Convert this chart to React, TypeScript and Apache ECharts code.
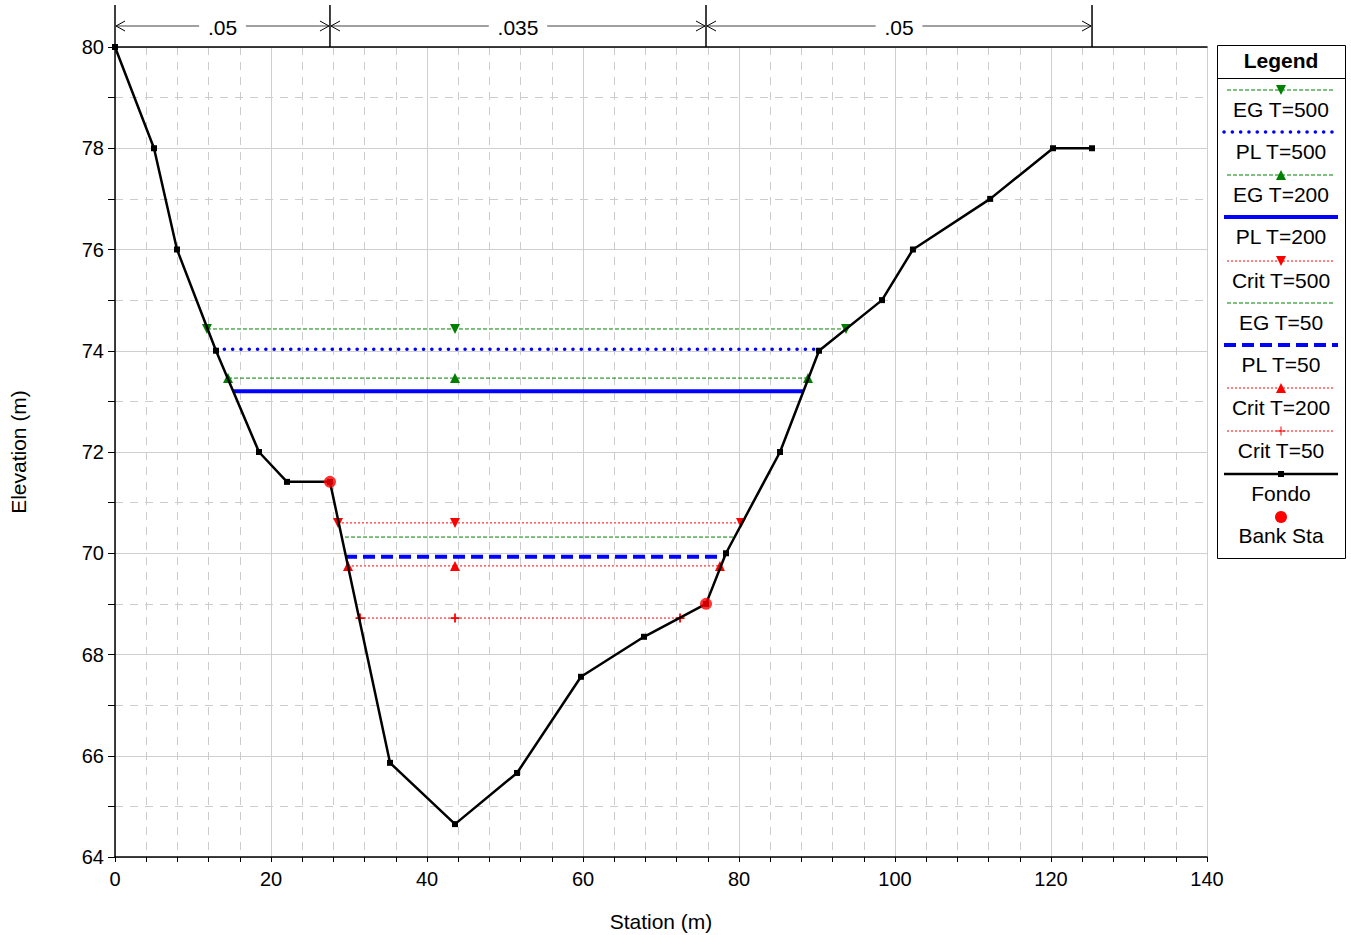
import React, { useEffect, useRef } from "react";
import * as echarts from "echarts";

// Ground profile ("Fondo")
const stations = [0, 5, 7.95, 12.95, 18.46, 22.05, 27.56, 35.26, 43.59, 51.54, 59.74, 67.82, 75.77, 78.33, 85.26, 90.26, 98.33, 102.3, 112.2, 120.26, 125.26];
const elevations = [80, 78, 76, 74, 72, 71.41, 71.41, 65.86, 64.65, 65.66, 67.56, 68.35, 69.0, 70.0, 72, 74, 75, 76, 77, 78, 78];

// Bank stations
const bankStations = [27.56, 75.77];
const bankElevations = [71.41, 69.0];

// Manning's n values between boundaries
const manningN = [".05", ".035", ".05"];

// Water surface / energy lines
const wsNames = ["EG T=500", "PL T=500", "EG T=200", "PL T=200", "Crit T=500", "EG T=50", "PL T=50", "Crit T=200", "Crit T=50"];
const wsLevels = [74.43, 74.03, 73.46, 73.2, 70.6, 70.32, 69.93, 69.75, 68.72];
const wsLeft = [11.79, 12.95, 14.49, 15.13, 28.59, 29.49, 29.49, 29.87, 31.41];
const wsRight = [93.72, 90.26, 88.85, 88.33, 80.26, 79.23, 78.08, 77.56, 72.44];
const wsMarkerStation = 43.59;

// axis ticks
const xTicks = [0, 20, 40, 60, 80, 100, 120, 140];
const yTicks = [64, 66, 68, 70, 72, 74, 76, 78, 80];

const FONT = "'Liberation Sans', Arial, sans-serif";
const GREEN = "#008000";
const BLUE = "#0000ff";
const RED = "#ff0000";
const PLUS = "path://M4,0H6V4H10V6H6V10H4V6H0V4H4Z";

type WsStyle = {
  color: string;
  width: number;
  dash: any;
  cap?: string;
  symbol?: string;
  rotate?: number;
  size?: number;
};

const wsStyles: WsStyle[] = [
  { color: GREEN, width: 1, dash: [4, 2], symbol: "triangle", rotate: 180, size: 10 },
  { color: BLUE, width: 3.5, dash: [0.1, 8.2], cap: "round" },
  { color: GREEN, width: 1, dash: [4, 2], symbol: "triangle", size: 10 },
  { color: BLUE, width: 4, dash: "solid" },
  { color: RED, width: 1, dash: [2, 2], symbol: "triangle", rotate: 180, size: 10 },
  { color: GREEN, width: 1, dash: [4, 2] },
  { color: BLUE, width: 4, dash: [12, 6] },
  { color: RED, width: 1, dash: [2, 2], symbol: "triangle", size: 10 },
  { color: RED, width: 1, dash: [2, 2], symbol: PLUS, size: 9 },
];

export default function App() {
  const ref = useRef<HTMLDivElement>(null);

  useEffect(() => {
    if (!ref.current) return;
    const chart = echarts.init(ref.current, null, { renderer: "svg" });

    const wsSeries = wsNames.map((name, i) => {
      const st = wsStyles[i];
      const data = st.symbol
        ? [[wsLeft[i], wsLevels[i]], [wsMarkerStation, wsLevels[i]], [wsRight[i], wsLevels[i]]]
        : [[wsLeft[i], wsLevels[i]], [wsRight[i], wsLevels[i]]];
      return {
        name,
        type: "line",
        data,
        showSymbol: !!st.symbol,
        symbol: st.symbol || "none",
        symbolSize: st.size || 0,
        symbolRotate: st.rotate || 0,
        itemStyle: { color: st.color },
        lineStyle: { color: st.color, width: st.width, type: st.dash, cap: st.cap || "butt" },
        z: 3,
        silent: true,
      };
    });

    const option: any = {
      animation: false,
      textStyle: { fontFamily: FONT },
      grid: { left: 115, top: 47, right: 144, bottom: 78, containLabel: false, outerBoundsMode: "none" },
      xAxis: [
        {
          type: "value",
          min: xTicks[0],
          max: xTicks[xTicks.length - 1],
          interval: 20,
          name: "Station (m)",
          nameLocation: "middle",
          nameGap: 54,
          nameTextStyle: { fontSize: 21, color: "#000", fontFamily: FONT },
          axisLine: { show: true, onZero: false, lineStyle: { color: "#000", width: 1.5 } },
          axisTick: { show: true, length: 5, lineStyle: { color: "#000" } },
          minorTick: { show: true, splitNumber: 5, length: 5, lineStyle: { color: "#000" } },
          axisLabel: { fontSize: 20, color: "#000", margin: 12, fontFamily: FONT },
          splitLine: { show: true, lineStyle: { color: "#cfcfcf", width: 1 } },
          minorSplitLine: { show: true, lineStyle: { color: "#cccccc", width: 1, type: [8, 7] } },
        },
        {
          type: "value",
          position: "top",
          min: xTicks[0],
          max: xTicks[xTicks.length - 1],
          interval: 20,
          axisLine: { show: true, onZero: false, lineStyle: { color: "#000", width: 1.5 } },
          axisTick: { show: false },
          axisLabel: { show: false },
          splitLine: { show: false },
        },
      ],
      yAxis: {
        type: "value",
        min: yTicks[0],
        max: yTicks[yTicks.length - 1],
        interval: 2,
        name: "Elevation (m)",
        nameLocation: "middle",
        nameGap: 86,
        nameRotate: 90,
        nameTextStyle: { fontSize: 21, color: "#000", fontFamily: FONT },
        axisLine: { show: true, onZero: false, lineStyle: { color: "#000", width: 1.5 } },
        axisTick: { show: true, length: 7, lineStyle: { color: "#000" } },
        minorTick: { show: true, splitNumber: 2, length: 7, lineStyle: { color: "#000" } },
        axisLabel: { fontSize: 20, color: "#000", margin: 11, fontFamily: FONT },
        splitLine: { show: true, lineStyle: { color: "#cfcfcf", width: 1 } },
        minorSplitLine: { show: true, lineStyle: { color: "#cccccc", width: 1, type: [8, 7] } },
      },
      series: [
        ...wsSeries,
        {
          name: "Fondo",
          type: "line",
          data: stations.map((s, i) => [s, elevations[i]]),
          symbol: "rect",
          symbolSize: 6,
          showSymbol: true,
          itemStyle: { color: "#000" },
          lineStyle: { color: "#000", width: 2.5 },
          z: 4,
          silent: true,
        },
        {
          name: "Bank Sta",
          type: "scatter",
          data: bankStations.map((s, i) => [s, bankElevations[i]]),
          symbol: "circle",
          symbolSize: 12,
          itemStyle: { color: RED },
          z: 5,
          silent: true,
        },
      ],
    };

    chart.setOption(option);

    // ---- Annotations at top (Manning's n) ----
    const bounds = [stations[0], bankStations[0], bankStations[1], stations[stations.length - 1]];
    const px = bounds.map((b) => chart.convertToPixel({ xAxisIndex: 0, yAxisIndex: 0 }, [b, 80])[0]);
    const topY = 5;
    const baseY = 47;
    const arrowY = 26;
    const g: any[] = [];
    px.forEach((x) => {
      g.push({ type: "line", shape: { x1: x, y1: topY, x2: x, y2: baseY }, style: { stroke: "#000", lineWidth: 1.5 }, z: 10 });
    });
    manningN.forEach((label, i) => {
      const L = px[i];
      const R = px[i + 1];
      const c = (L + R) / 2;
      const halfW = label.length * 5.8 + 6;
      g.push({ type: "line", shape: { x1: L + 1, y1: arrowY, x2: c - halfW, y2: arrowY }, style: { stroke: "#808080", lineWidth: 1.5 }, z: 10 });
      g.push({ type: "line", shape: { x1: c + halfW, y1: arrowY, x2: R - 1, y2: arrowY }, style: { stroke: "#808080", lineWidth: 1.5 }, z: 10 });
      g.push({ type: "polyline", shape: { points: [[L + 10, arrowY - 5], [L + 1, arrowY], [L + 10, arrowY + 5]] }, style: { stroke: "#000", lineWidth: 1, fill: null }, z: 11 });
      g.push({ type: "polyline", shape: { points: [[R - 10, arrowY - 5], [R - 1, arrowY], [R - 10, arrowY + 5]] }, style: { stroke: "#000", lineWidth: 1, fill: null }, z: 11 });
      g.push({
        type: "text",
        x: c,
        y: arrowY + 1,
        style: { text: label, fill: "#000", font: `21px ${FONT}`, align: "center", verticalAlign: "middle" },
        z: 11,
      });
    });

    // ---- Legend box ----
    const LX = 1217;
    const LW = 128;
    const LY = 45;
    const LH = 513;
    const cx = LX + LW / 2;
    g.push({ type: "rect", shape: { x: LX + 0.5, y: LY + 0.5, width: LW, height: LH }, style: { fill: "#fff", stroke: "#000", lineWidth: 1 }, z: 20 });
    g.push({ type: "text", x: cx, y: 60, style: { text: "Legend", fill: "#000", font: `bold 21px ${FONT}`, align: "center", verticalAlign: "middle" }, z: 21 });
    g.push({ type: "line", shape: { x1: LX, y1: 78.5, x2: LX + LW, y2: 78.5 }, style: { stroke: "#000", lineWidth: 1 }, z: 21 });

    const legendLineY = [90, 132, 175, 217, 261, 303, 345, 388, 431];
    const x1 = LX + 10;
    const x2 = LX + LW - 10;
    wsNames.forEach((name, i) => {
      const st = wsStyles[i];
      const y = legendLineY[i];
      g.push({
        type: "line",
        shape: { x1: st.width > 2 ? x1 - 3 : x1, y1: y, x2: st.width > 2 ? x2 + 3 : x2, y2: y },
        style: {
          stroke: st.color,
          lineWidth: st.width,
          lineDash: st.dash === "solid" ? null : st.dash,
          lineCap: st.cap || "butt",
        },
        z: 21,
      });
      if (st.symbol === "triangle") {
        const s = 5;
        const pts = st.rotate ? [[cx - s, y - s], [cx + s, y - s], [cx, y + s]] : [[cx - s, y + s], [cx + s, y + s], [cx, y - s]];
        g.push({ type: "polygon", shape: { points: pts }, style: { fill: st.color }, z: 22 });
      } else if (st.symbol) {
        g.push({ type: "line", shape: { x1: cx - 4.5, y1: y, x2: cx + 4.5, y2: y }, style: { stroke: st.color, lineWidth: 1 }, z: 22 });
        g.push({ type: "line", shape: { x1: cx, y1: y - 4.5, x2: cx, y2: y + 4.5 }, style: { stroke: st.color, lineWidth: 1 }, z: 22 });
      }
      g.push({ type: "text", x: cx, y: y + 19, style: { text: name, fill: "#000", font: `21px ${FONT}`, align: "center", verticalAlign: "middle" }, z: 21 });
    });
    // Fondo legend
    g.push({ type: "line", shape: { x1: x1 - 3, y1: 474, x2: x2 + 3, y2: 474 }, style: { stroke: "#000", lineWidth: 2.5 }, z: 21 });
    g.push({ type: "rect", shape: { x: cx - 3, y: 471, width: 6, height: 6 }, style: { fill: "#000" }, z: 22 });
    g.push({ type: "text", x: cx, y: 493, style: { text: "Fondo", fill: "#000", font: `21px ${FONT}`, align: "center", verticalAlign: "middle" }, z: 21 });
    // Bank Sta legend
    g.push({ type: "circle", shape: { cx, cy: 517, r: 6 }, style: { fill: RED }, z: 22 });
    g.push({ type: "text", x: cx, y: 535, style: { text: "Bank Sta", fill: "#000", font: `21px ${FONT}`, align: "center", verticalAlign: "middle" }, z: 21 });

    chart.setOption({ graphic: g });

    return () => chart.dispose();
  }, []);

  return <div ref={ref} style={{ position: "absolute", left: 0, top: 0, width: 1351, height: 935 }} />;
}
